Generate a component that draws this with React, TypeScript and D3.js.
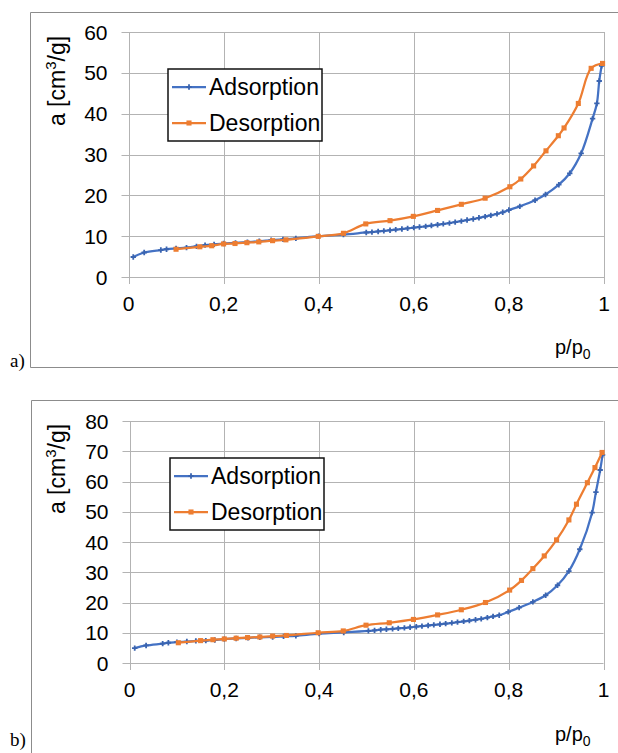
import React from "react";
// @ts-ignore
import * as d3 from "d3";

// panel a) — adsorption branch
const adsAX = [0.010, 0.033, 0.068, 0.080, 0.100, 0.122, 0.143, 0.161, 0.180, 0.200, 0.225, 0.250, 0.275, 0.300, 0.325, 0.352, 0.400, 0.452, 0.500, 0.512, 0.525, 0.537, 0.550, 0.562, 0.575, 0.587, 0.600, 0.612, 0.625, 0.637, 0.650, 0.662, 0.675, 0.687, 0.700, 0.712, 0.725, 0.737, 0.750, 0.762, 0.775, 0.787, 0.800, 0.823, 0.855, 0.877, 0.905, 0.928, 0.952, 0.976, 0.985, 0.990, 0.995];
const adsAY = [4.9, 6.0, 6.6, 6.8, 7.0, 7.2, 7.5, 7.8, 8.0, 8.2, 8.35, 8.55, 8.75, 9.0, 9.2, 9.45, 10.0, 10.4, 10.9, 11.0, 11.15, 11.3, 11.45, 11.6, 11.75, 11.9, 12.1, 12.25, 12.4, 12.6, 12.8, 13.0, 13.2, 13.45, 13.7, 13.95, 14.2, 14.5, 14.8, 15.1, 15.45, 15.85, 16.4, 17.3, 18.8, 20.2, 22.6, 25.4, 30.3, 38.8, 42.5, 48.0, 51.7];
// panel a) — desorption branch
const desAX = [0.100, 0.150, 0.175, 0.200, 0.224, 0.249, 0.274, 0.303, 0.331, 0.399, 0.452, 0.499, 0.550, 0.599, 0.650, 0.700, 0.750, 0.802, 0.825, 0.852, 0.878, 0.904, 0.916, 0.946, 0.973, 0.997];
const desAY = [6.8, 7.4, 7.65, 8.1, 8.2, 8.4, 8.6, 8.9, 9.1, 9.95, 10.7, 13.0, 13.8, 14.85, 16.3, 17.8, 19.3, 22.1, 24.0, 27.2, 30.9, 34.6, 36.5, 42.5, 51.1, 52.3];

// panel b) — adsorption branch
const adsBX = [0.011, 0.035, 0.070, 0.082, 0.100, 0.121, 0.140, 0.161, 0.180, 0.200, 0.225, 0.250, 0.275, 0.302, 0.325, 0.351, 0.400, 0.452, 0.504, 0.517, 0.530, 0.542, 0.555, 0.567, 0.580, 0.592, 0.605, 0.617, 0.630, 0.642, 0.655, 0.667, 0.680, 0.692, 0.705, 0.717, 0.730, 0.742, 0.755, 0.767, 0.780, 0.799, 0.822, 0.851, 0.878, 0.903, 0.927, 0.950, 0.976, 0.984, 0.993, 0.998];
const adsBY = [4.9, 5.8, 6.4, 6.7, 6.9, 7.1, 7.3, 7.4, 7.6, 7.9, 8.1, 8.3, 8.5, 8.6, 8.8, 9.0, 9.7, 10.1, 10.6, 10.8, 11.0, 11.15, 11.3, 11.45, 11.6, 11.8, 12.0, 12.2, 12.4, 12.6, 12.8, 13.0, 13.25, 13.5, 13.75, 14.0, 14.3, 14.6, 15.0, 15.4, 15.8, 16.9, 18.3, 20.2, 22.4, 25.7, 30.4, 37.6, 49.7, 56.5, 63.8, 68.8];
// panel b) — desorption branch
const desBX = [0.103, 0.150, 0.176, 0.200, 0.225, 0.249, 0.275, 0.302, 0.331, 0.398, 0.451, 0.499, 0.548, 0.599, 0.650, 0.700, 0.751, 0.802, 0.827, 0.851, 0.875, 0.901, 0.927, 0.943, 0.966, 0.982, 0.997];
const desBY = [6.7, 7.4, 7.7, 7.95, 8.2, 8.4, 8.6, 8.9, 9.1, 10.0, 10.6, 12.5, 13.3, 14.4, 15.9, 17.6, 20.0, 24.1, 27.3, 31.2, 35.4, 40.7, 47.3, 52.5, 59.6, 64.6, 69.6];

const xTicks = [0, 0.2, 0.4, 0.6, 0.8, 1];
const xTickLabels = ["0", "0,2", "0,4", "0,6", "0,8", "1"];
const yTicksA = [0, 10, 20, 30, 40, 50, 60];
const yTicksB = [0, 10, 20, 30, 40, 50, 60, 70, 80];
const seriesNames = ["Adsorption", "Desorption"];

const BLUE = "#4472C4";
const ORANGE = "#ED7D31";
const GRID = "#b3b3b3";
const FONT = "'Liberation Sans', Arial, sans-serif";

const zip = (xs: number[], ys: number[]) => xs.map((x, i) => [x, ys[i]]);

const drawPanel = (svg: any, cfg: any) => {
  const g = svg.append("g");

  // outer frame (open on the right side)
  g.append("path")
    .attr("d", `M618,${cfg.frameTop}H${cfg.frameLeft}V${cfg.frameBottom}` + (cfg.closeBottom ? `H618` : ""))
    .attr("fill", "none")
    .attr("stroke", "#8c8c8c")
    .attr("stroke-width", 1);

  g.append("text")
    .attr("x", 10)
    .attr("y", cfg.tagY)
    .attr("font-family", "'Liberation Serif', 'Times New Roman', serif")
    .attr("font-size", 19)
    .text(cfg.tag);

  const x = d3.scaleLinear().domain([0, 1]).range([cfg.x0, cfg.x1]);
  const y = d3.scaleLinear().domain([0, cfg.yMax]).range([cfg.yBottom, cfg.yTop]);

  // gridlines with outside ticks
  g.append("g")
    .selectAll("line")
    .data(cfg.yTicks)
    .join("line")
    .attr("x1", cfg.x0 - 7)
    .attr("x2", cfg.x1)
    .attr("y1", (d: number) => Math.round(y(d)) + 0.5)
    .attr("y2", (d: number) => Math.round(y(d)) + 0.5)
    .attr("stroke", GRID);
  g.append("g")
    .selectAll("line")
    .data(xTicks)
    .join("line")
    .attr("x1", (d: number) => Math.round(x(d)) + 0.5)
    .attr("x2", (d: number) => Math.round(x(d)) + 0.5)
    .attr("y1", cfg.yTop)
    .attr("y2", cfg.yBottom + 7)
    .attr("stroke", GRID);

  const tickFont = 21;
  g.append("g")
    .attr("font-family", FONT)
    .attr("font-size", tickFont)
    .attr("text-anchor", "end")
    .selectAll("text")
    .data(cfg.yTicks)
    .join("text")
    .attr("x", cfg.x0 - 21)
    .attr("y", (d: number) => y(d) + 7.5)
    .text((d: number) => d);
  g.append("g")
    .attr("font-family", FONT)
    .attr("font-size", tickFont)
    .attr("text-anchor", "middle")
    .selectAll("text")
    .data(xTicks)
    .join("text")
    .attr("x", (d: number) => x(d))
    .attr("y", cfg.xLabelY)
    .text((d: number, i: number) => xTickLabels[i]);

  // axis titles
  const yt = g.append("text")
    .attr("transform", `translate(${cfg.yTitleX},${cfg.yTitleY}) rotate(-90)`)
    .attr("font-family", FONT)
    .attr("font-size", 23)
    .attr("text-anchor", "middle");
  yt.append("tspan").text("a [cm");
  yt.append("tspan").attr("font-size", 15).attr("dy", -9).text("3");
  yt.append("tspan").attr("dy", 9).text("/g]");

  const xt = g.append("text")
    .attr("x", 555)
    .attr("y", cfg.pTitleY)
    .attr("font-family", FONT)
    .attr("font-size", 20);
  xt.append("tspan").text("p/p");
  xt.append("tspan").attr("font-size", 14).attr("dy", 5).text("0");

  const line = d3
    .line()
    .x((d: any) => x(d[0]))
    .y((d: any) => y(d[1]))
    .curve(d3.curveCatmullRom.alpha(0.5));

  const series = [
    { pts: zip(cfg.adsX, cfg.adsY), color: BLUE, sym: d3.symbolCross, size: 16, mark: "#3a64b0" },
    { pts: zip(cfg.desX, cfg.desY), color: ORANGE, sym: d3.symbolSquare, size: 26, mark: ORANGE },
  ];

  series.forEach((s) => {
    g.append("path")
      .attr("d", line(s.pts))
      .attr("fill", "none")
      .attr("stroke", s.color)
      .attr("stroke-width", 2.25)
      .attr("stroke-linejoin", "round");
    g.append("g")
      .selectAll("path")
      .data(s.pts)
      .join("path")
      .attr("transform", (d: any) => `translate(${x(d[0])},${y(d[1])})`)
      .attr("d", d3.symbol().type(s.sym).size(s.size))
      .attr("fill", s.mark);
  });

  // legend
  const lg = g.append("g").attr("transform", `translate(${cfg.legX},${cfg.legY})`);
  lg.append("rect")
    .attr("width", 154)
    .attr("height", 72)
    .attr("fill", "white")
    .attr("stroke", "#111")
    .attr("stroke-width", 1.5);
  series.forEach((s, i) => {
    const cy = 18 + i * 36;
    lg.append("line")
      .attr("x1", 4)
      .attr("x2", 38)
      .attr("y1", cy)
      .attr("y2", cy)
      .attr("stroke", s.color)
      .attr("stroke-width", 2.25);
    lg.append("path")
      .attr("transform", `translate(21,${cy})`)
      .attr("d", d3.symbol().type(s.sym).size(s.size))
      .attr("fill", s.mark);
    lg.append("text")
      .attr("x", 41)
      .attr("y", cy + 8)
      .attr("font-family", FONT)
      .attr("font-size", 23)
      .text(seriesNames[i]);
  });
};

const App = () => {
  const svgRef = React.useRef<SVGSVGElement>(null);

  React.useEffect(() => {
    const svg = d3.select(svgRef.current);
    svg.selectAll("*").remove();

    drawPanel(svg, {
      tag: "a)", tagY: 367, frameLeft: 30.5, frameTop: 12.5, frameBottom: 367.5, closeBottom: true,
      x0: 128.5, x1: 604, yTop: 32, yBottom: 277, yMax: 60, yTicks: yTicksA,
      xLabelY: 311, yTitleX: 65, yTitleY: 81, pTitleY: 354,
      legX: 168, legY: 69,
      adsX: adsAX, adsY: adsAY, desX: desAX, desY: desAY,
    });

    drawPanel(svg, {
      tag: "b)", tagY: 746, frameLeft: 31.5, frameTop: 400.5, frameBottom: 760, closeBottom: false,
      x0: 129.5, x1: 603.5, yTop: 421, yBottom: 663, yMax: 80, yTicks: yTicksB,
      xLabelY: 697, yTitleX: 65, yTitleY: 469, pTitleY: 741,
      legX: 170, legY: 458,
      adsX: adsBX, adsY: adsBY, desX: desBX, desY: desBY,
    });
  }, []);

  return (
    <svg
      ref={svgRef}
      width={618}
      height={753}
      style={{ position: "absolute", left: 0, top: 0, background: "white" }}
    />
  );
};

export default App;
